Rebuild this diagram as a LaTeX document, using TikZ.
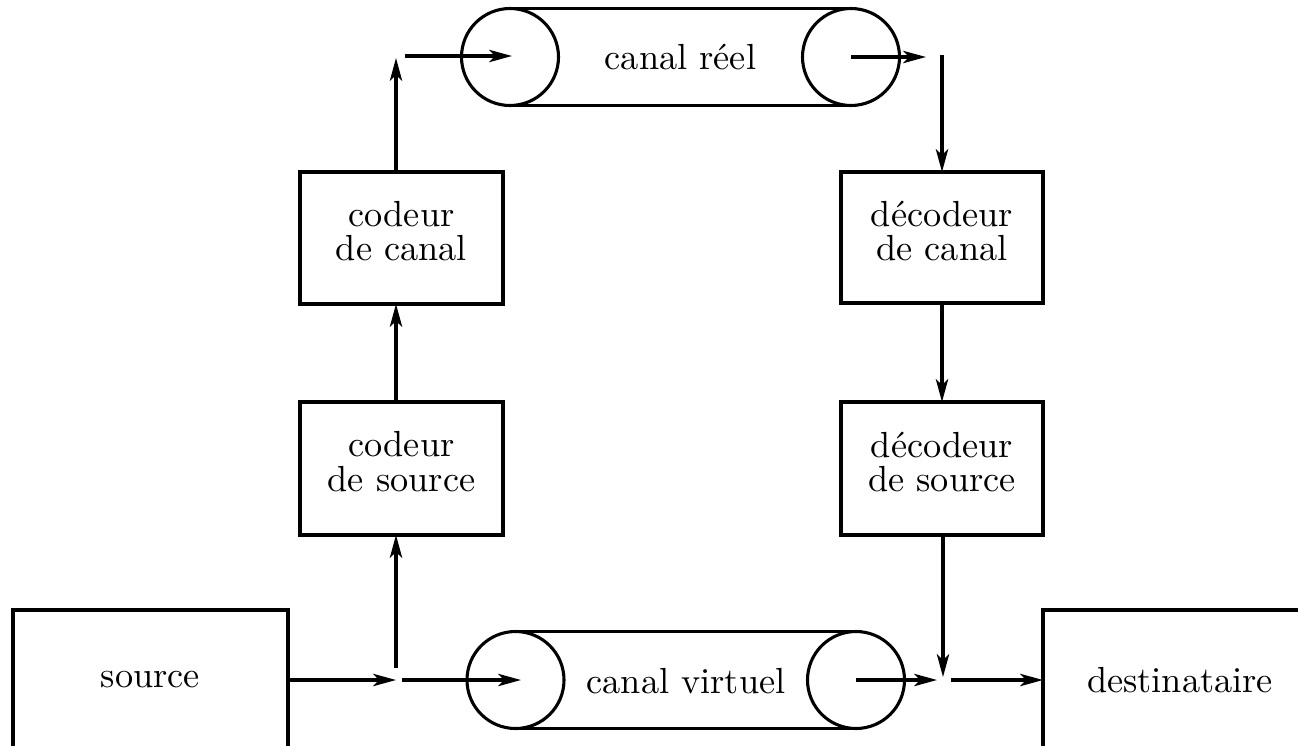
\documentclass[tikz,border=0pt]{standalone}
\usetikzlibrary{arrows.meta}
\begin{document}
\def\pxu{0.2755pt}
\newcommand{\lowpad}{\rule[-3.9pt]{0pt}{3.9pt}}
\begin{tikzpicture}[x=\pxu,y=-\pxu, line width=0.85pt,
  box/.style={draw, rectangle, inner sep=0pt, outer sep=0pt, align=center, font=\fontsize{10}{9.4}\selectfont},
  roll/.style={draw, circle, minimum size=97*\pxu, inner sep=0pt, outer sep=0pt},
  arr/.style={-{Stealth[length=6.3pt,width=3.4pt,inset=1.6pt]}},
  lbl/.style={inner sep=0pt, font=\fontsize{10}{12}\selectfont}
]
\clip (0,0) rectangle (1298,745);
% boxes
\node[box, minimum width=203*\pxu, minimum height=132*\pxu] (cc) at (401.5,238) {codeur\\de canal\lowpad};
\node[box, minimum width=203*\pxu, minimum height=133*\pxu] (cs) at (401.5,468.5) {codeur\\de source\lowpad};
\node[box, minimum width=202*\pxu, minimum height=131*\pxu] (dc) at (942,237.5) {décodeur\\de canal\lowpad};
\node[box, minimum width=202*\pxu, minimum height=133*\pxu] (ds) at (942,468.5) {décodeur\\de source\lowpad};
\node[box, minimum width=275*\pxu, minimum height=140*\pxu] (src) at (150.5,680) {source};
\node[box, minimum width=274*\pxu, minimum height=140*\pxu] (dst) at (1180,680) {destinataire};
% top channel
\node[roll] (tl) at (510,57) {};
\node[roll] (tr) at (851,57) {};
\draw (tl.north) -- (tr.north) (tl.south) -- (tr.south);
\node[lbl] (tt) at (680.5,57) {canal réel};
% bottom channel
\node[roll] (bl) at (515.5,680) {};
\node[roll] (br) at (856,680) {};
\draw (bl.north) -- (br.north) (bl.south) -- (br.south);
\node[lbl] (bt) at (686,681) {canal virtuel};
% junction coordinates
\coordinate (j1) at (396,680);
\coordinate (j1b) at (402,680);
\coordinate (j1u) at (396,668);
\coordinate (tlin) at (396,58);
\coordinate (tlout) at (405,56);
\coordinate (tltip) at (512,56);
\coordinate (trtip) at (926,57);
\coordinate (trdown) at (942,55);
\coordinate (j2) at (943,677);
\coordinate (brtip) at (937,680);
\coordinate (j2b) at (951,680);
\coordinate (bltip) at (521,680);
% connectors
\draw[arr] (src.east) -- (j1);
\draw[arr] (j1b) -- (bltip);
\draw[arr] (j1u) -- (cs.south -| j1u);
\draw[arr] (cs.north -| j1u) -- (cc.south -| j1u);
\draw[arr] (cc.north -| j1u) -- (tlin);
\draw[arr] (tlout) -- (tltip);
\draw[arr] (tr.center) -- (trtip);
\draw[arr] (trdown) -- (dc.north -| trdown);
\draw[arr] (dc.south -| trdown) -- (ds.north -| trdown);
\draw[arr] (ds.south -| j2) -- (j2);
\draw[arr] (br.center) -- (brtip);
\draw[arr] (j2b) -- (dst.west);
\end{tikzpicture}
\end{document}
